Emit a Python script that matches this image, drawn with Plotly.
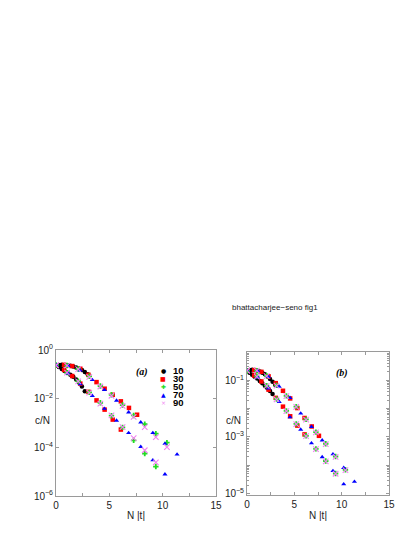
import numpy as np
import plotly.graph_objects as go

# x grids (N|t|) for each N
x_10 = [0, 0.27, 0.54, 0.81, 1.08, 1.35, 1.62, 1.89, 2.16, 2.43, 2.7, 2.97]
x_30 = [0, 0.76, 1.52, 2.28, 3.04, 3.8, 4.56, 5.32, 6.08, 6.84, 7.6]
x_50 = [0, 1.04, 2.08, 3.12, 4.16, 5.2, 6.24, 7.28, 8.32, 9.36, 10.4]
x_70 = [0, 1.135, 2.27, 3.405, 4.54, 5.675, 6.81, 7.945, 9.08, 10.215, 11.35]
x_90 = [0, 1.04, 2.08, 3.12, 4.16, 5.2, 6.24, 7.28, 8.32, 9.36, 10.4]

# panel (a): log10(c/N), upper and lower branch
a_10_up = [-0.64, -0.62, -0.61, -0.62, -0.63, -0.65, -0.68, -0.72, -0.77, -0.82, -0.90, -1.0]
a_10_lo = [-0.64, -0.70, -0.78, -0.86, -0.94, -1.02, -1.10, -1.21, -1.34, -1.50, -1.70]
a_30_up = [-0.63, -0.61, -0.66, -0.77, -1.02, -1.32, -1.59, -1.84, -2.11, -2.38, -2.66]
a_30_lo = [-0.63, -0.82, -1.07, -1.38, -1.72, -2.07, -2.45, -2.86, -3.27]
a_50_up = [-0.62, -0.64, -0.78, -1.08, -1.48, -1.84, -2.26, -2.69, -3.05, -3.44, -3.81]
a_50_lo = [-0.62, -0.93, -1.28, -1.74, -2.17, -2.70, -3.18, -3.71, -4.26, -4.79]
a_70_up = [-0.63, -0.65, -0.84, -1.23, -1.64, -2.08, -2.56, -2.97, -3.41, -3.85, -4.29]
a_70_lo = [-0.63, -0.96, -1.40, -1.88, -2.41, -2.90, -3.41, -3.98, -4.53, -5.11]
a_90_up = [-0.63, -0.64, -0.79, -1.10, -1.50, -1.88, -2.30, -2.75, -3.17, -3.58, -3.99]
a_90_lo = [-0.63, -0.93, -1.29, -1.75, -2.20, -2.69, -3.17, -3.62, -4.12, -4.62]

# panel (b)
b_10_up = [-0.67, -0.64, -0.63, -0.64, -0.66, -0.69, -0.73, -0.79, -0.86, -0.95, -1.05, -1.16]
b_10_lo = [-0.67, -0.73, -0.80, -0.87, -0.94, -1.02, -1.10, -1.19, -1.28, -1.38, -1.48]
b_30_up = [-0.66, -0.64, -0.70, -0.86, -1.10, -1.37, -1.64, -1.98, -2.33, -2.63, -2.96]
b_30_lo = [-0.66, -0.83, -1.04, -1.33, -1.62, -1.93, -2.27, -2.60, -2.91]
b_50_up = [-0.66, -0.66, -0.84, -1.18, -1.55, -1.93, -2.38, -2.83, -3.24, -3.69, -4.16]
b_50_lo = [-0.66, -0.86, -1.19, -1.66, -2.08, -2.54, -2.96, -3.42, -3.85, -4.29]
b_70_up = [-0.66, -0.67, -0.88, -1.22, -1.62, -2.17, -2.64, -3.12, -3.61, -4.09, -4.58]
b_70_lo = [-0.66, -0.90, -1.28, -1.76, -2.30, -2.74, -3.22, -3.71, -4.20, -4.67]
b_90_up = [-0.66, -0.66, -0.85, -1.19, -1.56, -1.94, -2.39, -2.84, -3.25, -3.70, -4.17]
b_90_lo = [-0.66, -0.87, -1.20, -1.67, -2.09, -2.55, -2.97, -3.43, -3.86, -4.30]

labels = ["10", "30", "50", "70", "90"]
colors = ["black", "#ff0000", "#22dd22", "#0000ff", "#f080f0"]
symbols = ["circle", "square", "cross", "triangle-up", "x-thin-open"]
legend_glyphs = ["●", "■", "✚", "▲", "×"]

xs = [x_10, x_30, x_50, x_70, x_90]
panel_a = [(a_10_up, a_10_lo), (a_30_up, a_30_lo), (a_50_up, a_50_lo),
           (a_70_up, a_70_lo), (a_90_up, a_90_lo)]
panel_b = [(b_10_up, b_10_lo), (b_30_up, b_30_lo), (b_50_up, b_50_lo),
           (b_70_up, b_70_lo), (b_90_up, b_90_lo)]

W, H = 415, 537
fig = go.Figure()


def add_panel(data, xa, ya):
    for x, (up, lo), c, s in zip(xs, data, colors, symbols):
        xx = list(x[:len(up)]) + list(x[:len(lo)])
        yy = 10 ** np.array(list(up) + list(lo))
        line_w = 1.1 if s.endswith("open") else 0
        fig.add_trace(go.Scatter(
            x=xx, y=yy, mode="markers", xaxis=xa, yaxis=ya,
            showlegend=False,
            marker=dict(symbol=s, size=4.5 if s != "x-thin-open" else 5.5,
                        color=c, line=dict(width=line_w, color=c))
        ))


add_panel(panel_a, "x", "y")
add_panel(panel_b, "x2", "y2")

frame = "#9a9a9a"
tickfont = dict(family="Liberation Sans, Arial, sans-serif", size=10, color="#222")


def xaxis_style(dom, anchor):
    return dict(domain=dom, anchor=anchor, range=[0, 15], dtick=5,
                ticks="inside", ticklen=3, tickcolor=frame,
                minor=dict(dtick=2.5, ticks="inside", ticklen=3, tickcolor=frame),
                showline=True, linecolor=frame, linewidth=1, mirror="ticks",
                showgrid=False, zeroline=False, tickfont=tickfont, automargin=False)


fig.update_layout(
    width=W, height=H,
    margin=dict(l=0, r=0, t=0, b=0),
    paper_bgcolor="white", plot_bgcolor="white",
    xaxis=xaxis_style([48 / W, 208 / W], "y"),
    xaxis2=xaxis_style([239 / W, 381 / W], "y2"),
    yaxis=dict(domain=[1 - 488 / H, 1 - 342 / H], anchor="x", type="log",
               range=[-6, 0], tickmode="array",
               tickvals=[1, 1e-2, 1e-4, 1e-6],
               ticktext=["10<sup>0</sup>", "10<sup>−2</sup>", "10<sup>−4</sup>", "10<sup>−6</sup>"],
               ticks="inside", ticklen=3, tickcolor=frame,
               showline=True, linecolor=frame, linewidth=1, mirror="ticks",
               showgrid=False, zeroline=False, tickfont=tickfont, automargin=False),
    yaxis2=dict(domain=[1 - 487 / H, 1 - 344 / H], anchor="x2", type="log",
                range=[-5.05, 0], tickmode="array",
                tickvals=[1, 1e-1, 1e-2, 1e-3, 1e-4, 1e-5],
                ticktext=["", "10<sup>−1</sup>", "", "10<sup>−3</sup>", "", "10<sup>−5</sup>"],
                ticks="inside", ticklen=3, tickcolor=frame,
                minor=dict(dtick="D1", ticks="inside", ticklen=2, tickcolor=frame),
                showline=True, linecolor=frame, linewidth=1, mirror="ticks",
                showgrid=False, zeroline=False, tickfont=tickfont, automargin=False),
)

txt = dict(family="Liberation Sans, Arial, sans-serif", size=10, color="#222")
notes = [
    dict(x=267 / W, y=1 - 299 / H, text="bhattacharjee−seno fig1",
         font=dict(family="Liberation Sans, Arial, sans-serif", size=8, color="#222")),
    dict(x=128 / W, y=1 - 507 / H, text="N |t|", font=txt),
    dict(x=310 / W, y=1 - 507 / H, text="N |t|", font=txt),
    dict(x=34 / W, y=1 - 412 / H, text="c/N", font=txt),
    dict(x=225 / W, y=1 - 412 / H, text="c/N", font=txt),
    dict(x=134 / W, y=1 - 364 / H, text="<b><i>(a)</i></b>",
         font=dict(family="Liberation Serif, serif", size=10, color="black")),
    dict(x=334 / W, y=1 - 365 / H, text="<b><i>(b)</i></b>",
         font=dict(family="Liberation Serif, serif", size=10, color="black")),
]
for i, (lab, c, g) in enumerate(zip(labels, colors, legend_glyphs)):
    yy = 1 - (362.7 + i * 7.9) / H
    notes.append(dict(x=155 / W, y=yy, text=g,
                      font=dict(family="DejaVu Sans", size=6, color=c)))
    notes.append(dict(x=164 / W, y=yy, text="<b>" + lab + "</b>", xanchor="left",
                      font=dict(family="Liberation Sans, Arial, sans-serif", size=9.5, color="black")))

for n in notes:
    n.setdefault("xanchor", "center")
    fig.add_annotation(xref="paper", yref="paper", yanchor="middle",
                       showarrow=False, borderpad=0, **n)

fig.write_html("out.html")
